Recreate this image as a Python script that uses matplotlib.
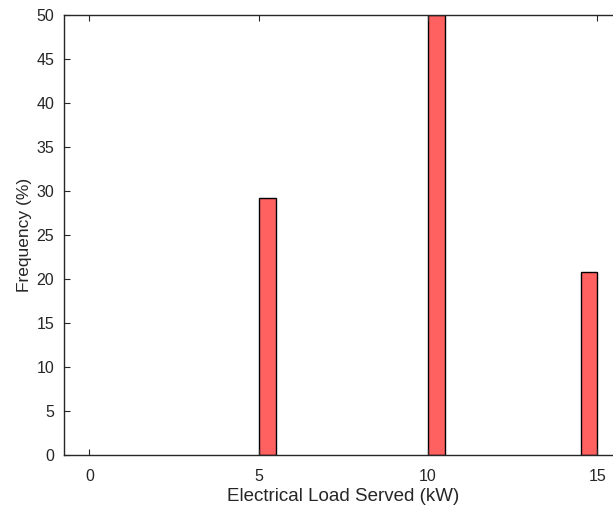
import matplotlib
matplotlib.use("Agg")
import matplotlib.pyplot as plt

plt.rcParams['font.family'] = ['Liberation Sans', 'DejaVu Sans']

bin_left = [5.0, 10.0, 14.5]
frequency = [29.17, 50.0, 20.83]
bin_width = 0.5
xticks = [0, 5, 10, 15]
yticks = list(range(0, 55, 5))

W, H = 613, 511
fig = plt.figure(figsize=(W / 100, H / 100), dpi=100)
px = 33.87
ax = fig.add_axes([64 / W, 56 / H, 16.5 * px / W, 440 / H])
ax.bar(bin_left, frequency, width=bin_width, align='edge',
       color='#ff6060', edgecolor='black', linewidth=1.0)
ax.set_xlim(-0.75, 15.75)
ax.set_ylim(0, 50)
ax.set_xticks(xticks)
ax.set_yticks(yticks)
ax.tick_params(direction='in', length=4, width=0.8, top=True, right=True,
               labelsize=11.5, colors='#262626')
ax.tick_params(axis='x', pad=10)
ax.tick_params(axis='y', pad=7)
for s in ax.spines.values():
    s.set_linewidth(1.0)
    s.set_color('#262626')
ax.set_xlabel('Electrical Load Served (kW)', fontsize=13.5, labelpad=3, color='#262626')
ax.set_ylabel('Frequency (%)', fontsize=12.5, labelpad=3, color='#262626')
fig.savefig('out.png', dpi=100)
